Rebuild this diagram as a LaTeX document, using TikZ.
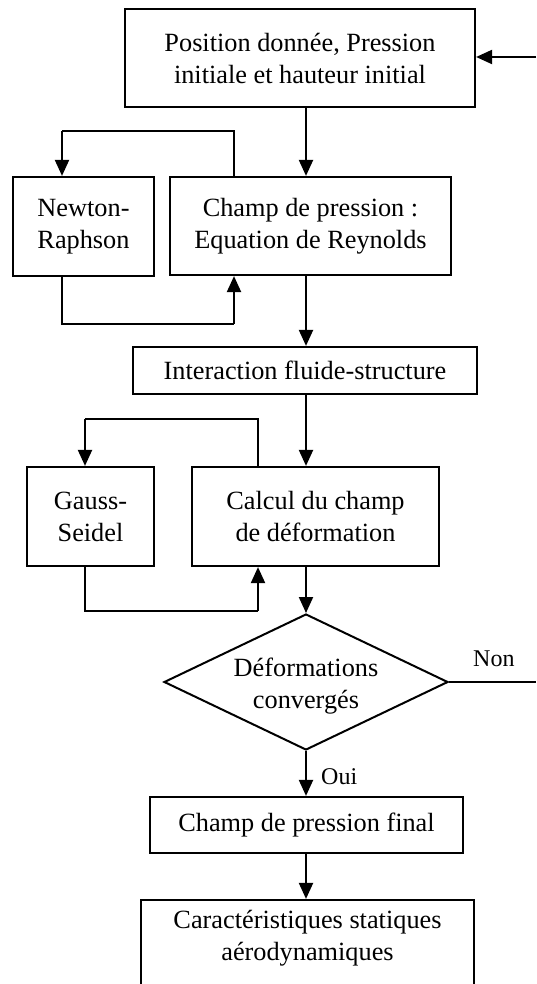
\documentclass[tikz,border=0pt]{standalone}
\usepackage{fontspec}
\setmainfont{Liberation Serif}
\usetikzlibrary{arrows.meta,shapes.geometric,calc}
\begin{document}
\begin{tikzpicture}[x=1pt,y=-1pt,
  every node/.style={font=\fontsize{26.3}{32}\selectfont, align=center, inner sep=0pt},
  box/.style={draw, line width=2.2pt, rectangle},
  arr/.style={line width=2.1pt, -{Triangle[width=14pt,length=16pt]}},
  thin/.style={line width=1.3pt},
  tarr/.style={line width=2.1pt, -{Triangle[width=14pt,length=16pt]}},
  lbl/.style={font=\fontsize{24}{28}\selectfont}]
\useasboundingbox (0,0) rectangle (536,984);
\coordinate (col) at (306,0);
\node[box, minimum width=350pt, minimum height=98pt] (b1) at (300,58) {Position donnée, Pression\\initiale et hauteur initial};
\node[box, minimum width=141pt, minimum height=99pt] (newton) at (83.5,226.5) {Newton-\\Raphson};
\node[box, minimum width=281pt, minimum height=98pt] (champ) at (310.5,226) {Champ de pression :\\Equation de Reynolds};
\node[box, minimum width=344pt, minimum height=47pt] (inter) at (305,370.5) {Interaction fluide-structure};
\node[box, minimum width=127pt, minimum height=99pt] (gauss) at (90.5,516.5) {Gauss-\\Seidel};
\node[box, minimum width=247pt, minimum height=99pt] (calcul) at (315.5,516.5) {Calcul du champ\\de déformation};
\node[draw, diamond, line width=2pt, minimum width=284pt, minimum height=136pt] (dia) at (306,682) {};
\node (diat) at (306,686) {Déformations\\convergés};
\node[box, minimum width=313pt, minimum height=56pt] (final) at (306.5,825) {Champ de pression final};
\node[box, minimum width=333pt, minimum height=94pt] (car) at (307.5,947) {};
\node (cart) at (307.5,938) {Caractéristiques statiques\\aérodynamiques};
\node[lbl, anchor=west] (non) at (473,659) {Non};
\node[lbl, anchor=west] (oui) at (321,777) {Oui};
% right feedback lines
\coordinate (r1) at (536,57);
\coordinate (r2) at (536,682);
\draw[arr] (r1) -- (r1 -| b1.east);
\draw[line width=1.5pt] (dia.east) -- (r2);
% main column
\draw[arr] (b1.south -| col) -- (champ.north -| col);
\draw[arr] (champ.south -| col) -- (inter.north -| col);
\draw[arr] (inter.south -| col) -- (calcul.north -| col);
\draw[arr] (calcul.south -| col) -- (dia.north);
\draw[arr] (dia.south) -- (final.north -| dia.south);
\draw[arr] (final.south -| col) -- (car.north -| col);
% Newton loop
\coordinate (l1a) at (234,131);
\coordinate (l1b) at (62,131);
\coordinate (l1c) at (62,324);
\coordinate (l1d) at (234,324);
\draw[thin] (champ.north -| l1a) -- (l1a) -- (l1b);
\draw[tarr] (l1b) -- (newton.north -| l1b);
\draw[thin] (newton.south -| l1c) -- (l1c) -- (l1d);
\draw[tarr] (l1d) -- (champ.south -| l1d);
% Gauss loop
\coordinate (l2a) at (258,419);
\coordinate (l2b) at (85,419);
\coordinate (l2c) at (85,611);
\coordinate (l2d) at (258,611);
\draw[thin] (calcul.north -| l2a) -- (l2a) -- (l2b);
\draw[tarr] (l2b) -- (gauss.north -| l2b);
\draw[thin] (gauss.south -| l2c) -- (l2c) -- (l2d);
\draw[tarr] (l2d) -- (calcul.south -| l2d);
\end{tikzpicture}
\end{document}
